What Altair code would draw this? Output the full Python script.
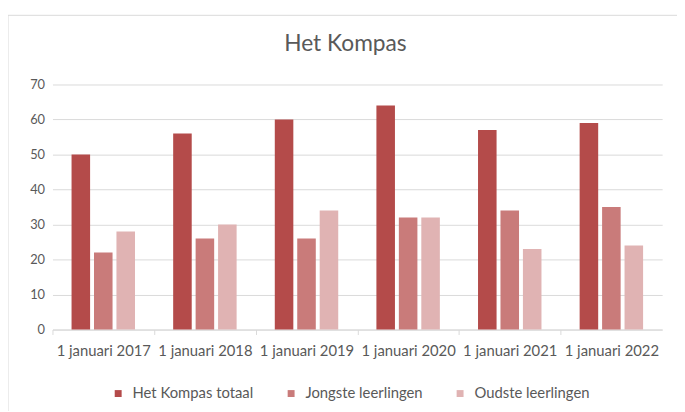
import altair as alt
import pandas as pd

categories = ["1 januari 2017", "1 januari 2018", "1 januari 2019",
              "1 januari 2020", "1 januari 2021", "1 januari 2022"]
series = ["Het Kompas totaal", "Jongste leerlingen", "Oudste leerlingen"]
totaal = [50, 56, 60, 64, 57, 59]
jongste = [22, 26, 26, 32, 34, 35]
oudste = [28, 30, 34, 32, 23, 24]
colors = ["#B44B4A", "#C97B7A", "#E0B3B3"]

rows = []
for i, c in enumerate(categories):
    for s, vals in zip(series, [totaal, jongste, oudste]):
        rows.append({"datum": c, "reeks": s, "waarde": vals[i]})
df = pd.DataFrame(rows)

FONT = "Lato"
GRAY = "#595959"
STEP = 617 / 6

bars = alt.Chart(df).mark_bar().encode(
    x=alt.X("datum:N", sort=categories, title=None,
            scale=alt.Scale(paddingInner=0, paddingOuter=0),
            axis=alt.Axis(labelAngle=0, labelFont=FONT, labelFontSize=15,
                          labelColor=GRAY, labelPadding=9, domainColor="#D9D9D9",
                          tickColor="#D9D9D9", tickSize=5, tickOffset=-STEP / 2,
                          labelOffset=STEP / 2, labelLimit=200, grid=False)),
    xOffset=alt.XOffset("reeks:N", sort=series,
                        scale=alt.Scale(paddingInner=0.174, paddingOuter=0.85)),
    y=alt.Y("waarde:Q", title=None,
            scale=alt.Scale(domain=[0, 70]),
            axis=alt.Axis(values=[0, 10, 20, 30, 40, 50, 60, 70], domain=False,
                          ticks=False, labelFont=FONT, labelFontSize=13,
                          labelColor=GRAY, labelPadding=8, gridColor="#D9D9D9")),
    color=alt.Color("reeks:N", sort=series,
                    scale=alt.Scale(domain=series, range=colors),
                    legend=alt.Legend(title=None, orient="none", direction="horizontal",
                                      legendX=59, legendY=305, symbolType="square",
                                      symbolSize=49, symbolStrokeWidth=0,
                                      labelFont=FONT, labelFontSize=15, labelColor=GRAY,
                                      columnPadding=30, labelOffset=7)),
)

border = alt.Chart(pd.DataFrame({"a": [0]})).mark_rect(
    fill=None, stroke="#D9D9D9", strokeWidth=1
).encode(x=alt.value(-45), x2=alt.value(640), y=alt.value(-70), y2=alt.value(340))

chart = alt.layer(border, bars).properties(
    width=617, height=248,
    title=alt.TitleParams("Het Kompas", font=FONT, fontSize=23, fontWeight="normal",
                          color=GRAY, anchor="middle", offset=-42, dx=-12),
    padding={"left": 45, "top": 75, "right": 15, "bottom": 80},
    autosize=alt.AutoSizeParams(type="none"),
).configure_view(stroke=None)

chart.save("out.html", embed_options={"renderer": "svg", "actions": False})
